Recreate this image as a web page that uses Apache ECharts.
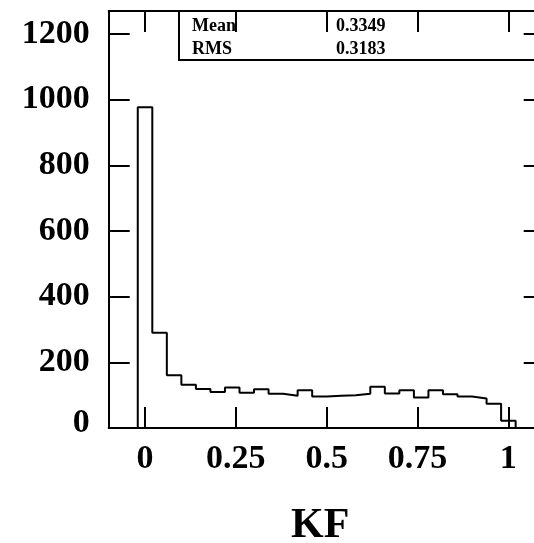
<!DOCTYPE html>
<html>
<head>
<meta charset="utf-8">
<script src="https://cdn.jsdelivr.net/npm/echarts@6/dist/echarts.min.js"></script>
<style>html,body{margin:0;padding:0;background:#fff;}#c{width:534px;height:543px;}</style>
</head>
<body>
<div id="c"></div>
<script>
// Histogram definition
var binStart = -0.02;
var binWidth = 0.04;
var counts = [977, 290, 161, 132, 119, 110, 123, 107, 118, 104, 98, 115, 96, 98, 100, 104, 126, 105, 115, 93, 115, 103, 96, 90, 74, 22];
var xTicks = [0, 0.25, 0.5, 0.75, 1];
var yTicks = [0, 200, 400, 600, 800, 1000, 1200];
var statNames = ['Mean', 'RMS'];
var statValues = ['0.3349', '0.3183'];
var xTitle = 'KF';

var FONT = "'Liberation Serif','Times New Roman',serif";

// step outline points built from bin edges
var pts = [[binStart, 0]];
for (var i = 0; i < counts.length; i++) {
  pts.push([+(binStart + i * binWidth).toFixed(4), counts[i]]);
}
pts.push([+(binStart + counts.length * binWidth).toFixed(4), 0]);

var chart = echarts.init(document.getElementById('c'), null, {renderer: 'canvas'});
var lineStyle = {color: '#000', width: 2};
var tickCommon = {show: true, inside: true, length: 21, lineStyle: lineStyle};

var option = {
  animation: false,
  backgroundColor: '#fff',
  grid: {left: 108.7, top: 11, width: 436, height: 417, containLabel: false, outerBoundsMode: 'none'},
  xAxis: [
    {
      type: 'value', position: 'bottom', min: -0.1, max: 1.1,
      axisLine: {show: true, onZero: false, lineStyle: lineStyle},
      axisTick: Object.assign({customValues: xTicks}, tickCommon),
      axisLabel: {customValues: xTicks, margin: 31, verticalAlign: 'middle',
        formatter: function (v) { return String(v); },
        fontFamily: FONT, fontWeight: 'bold', fontSize: 34, color: '#000'},
      splitLine: {show: false},
      name: xTitle, nameLocation: 'middle', nameGap: 98,
      nameTextStyle: {fontFamily: FONT, fontWeight: 'bold', fontSize: 42, color: '#000', verticalAlign: 'middle', padding: [0, 13, 0, 0]}
    },
    {
      type: 'value', position: 'top', min: -0.1, max: 1.1,
      axisLine: {show: true, onZero: false, lineStyle: lineStyle},
      axisTick: Object.assign({customValues: xTicks}, tickCommon),
      axisLabel: {show: false},
      splitLine: {show: false}
    }
  ],
  yAxis: [
    {
      type: 'value', position: 'left', min: 0, max: 1270,
      axisLine: {show: true, onZero: false, lineStyle: lineStyle},
      axisTick: Object.assign({customValues: yTicks}, tickCommon),
      axisLabel: {customValues: yTicks, margin: 19,
        formatter: function (v) { return v === 0 ? '{z|0}' : String(v); },
        rich: {z: {fontFamily: FONT, fontWeight: 'bold', fontSize: 34, color: '#000', padding: [0, 0, 10, 0]}},
        fontFamily: FONT, fontWeight: 'bold', fontSize: 34, color: '#000'},
      splitLine: {show: false}
    },
    {
      type: 'value', position: 'right', min: 0, max: 1270,
      axisLine: {show: true, onZero: false, lineStyle: lineStyle},
      axisTick: Object.assign({customValues: yTicks}, tickCommon),
      axisLabel: {show: false},
      splitLine: {show: false}
    }
  ],
  series: [{
    type: 'line', xAxisIndex: 0, yAxisIndex: 0,
    data: pts, step: 'end', symbol: 'none', showSymbol: false,
    lineStyle: {color: '#000', width: 2}, clip: false
  }],
  graphic: [
    {type: 'rect', shape: {x: 179, y: 11, width: 420, height: 49},
     style: {fill: 'transparent', stroke: '#000', lineWidth: 2}, z: 1},
    {type: 'text', x: 192, y: 26, style: {text: statNames[0], font: 'bold 18px ' + FONT, fill: '#000', verticalAlign: 'middle'}},
    {type: 'text', x: 336, y: 26, style: {text: statValues[0], font: 'bold 18px ' + FONT, fill: '#000', verticalAlign: 'middle'}},
    {type: 'text', x: 192, y: 49, style: {text: statNames[1], font: 'bold 18px ' + FONT, fill: '#000', verticalAlign: 'middle'}},
    {type: 'text', x: 336, y: 49, style: {text: statValues[1], font: 'bold 18px ' + FONT, fill: '#000', verticalAlign: 'middle'}}
  ]
};
chart.setOption(option);
</script>
</body>
</html>
